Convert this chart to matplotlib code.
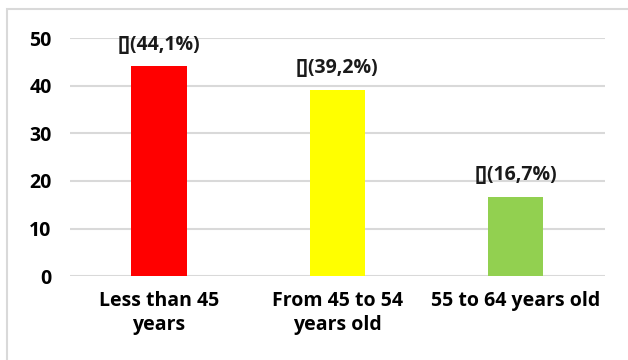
import matplotlib.pyplot as plt
from matplotlib.patches import Rectangle

# Age groups and their share (%)
categories = ["Less than 45\nyears", "From 45 to 54\nyears old", "55 to 64 years old"]
values = [44.1, 39.2, 16.7]
labels = ["[](44,1%)", "[](39,2%)", "[](16,7%)"]
colors = ["#ff0000", "#ffff00", "#92d050"]

plt.rcParams['font.family'] = ['Open Sans', 'DejaVu Sans']

fig = plt.figure(figsize=(6.28, 3.6), dpi=100)
ax = fig.add_axes([0.111, 0.233, 0.852, 0.661])

# light chart frame
fig.patches.append(Rectangle((7 / 628, -0.1), 1.2, 1 - 9 / 360 + 0.1,
                             transform=fig.transFigure, fill=False,
                             edgecolor="#d9d9d9", linewidth=1.5))

x = range(len(categories))
ax.bar(x, values, width=0.31, color=colors, zorder=3)
for i, v in enumerate(values):
    ax.text(i, v + 2.4, labels[i], ha="center", va="bottom",
            fontsize=14, fontweight="bold", color="#1a1a1a")

ax.set_xlim(-0.5, 2.5)
ax.set_ylim(0, 50)
ax.set_yticks(range(0, 51, 10))
ax.yaxis.grid(True, color="#d9d9d9", linewidth=1.5, zorder=0)
ax.set_xticks(list(x))
ax.set_xticklabels(categories, fontsize=14, fontweight="bold", linespacing=1.25)
for lbl in ax.get_yticklabels():
    lbl.set_fontsize(14)
    lbl.set_fontweight("bold")
ax.tick_params(length=0, pad=13)
ax.tick_params(axis="x", pad=11)
for s in ax.spines.values():
    s.set_visible(False)

fig.savefig("out.png", dpi=100)
